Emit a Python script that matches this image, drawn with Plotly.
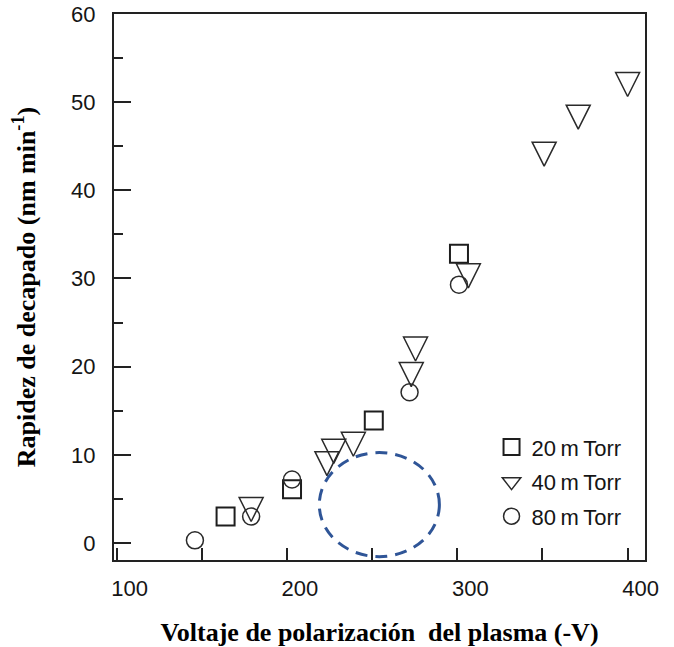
import plotly.graph_objects as go

# ---- data ----
x_20 = [164, 203, 251, 301]
y_20 = [3.0, 6.1, 13.9, 32.8]

x_40 = [179, 223.5, 227.5, 239, 273, 275.5, 306.5, 351, 371, 400]
y_40 = [3.8, 9.0, 10.4, 11.2, 19.1, 22.0, 30.3, 44.1, 48.3, 52.0]

x_80 = [146, 179, 203, 272, 301]
y_80 = [0.3, 3.0, 7.2, 17.1, 29.3]

series_names = ["20\u2009m\u2009Torr", "40\u2009m\u2009Torr", "80\u2009m\u2009Torr"]

x_tick_vals = [100, 200, 300, 400]
y_tick_vals = [0, 10, 20, 30, 40, 50, 60]

highlight_x = [219, 289.5]
highlight_y = [-1.55, 10.25]

x_title = "Voltaje de polarización  del plasma (-V)"
y_title = "Rapidez de decapado (nm min<sup>-1</sup>)"

# ---- figure ----
INK = "#2a2a2a"
SQ = "#1e1e1e"
fig = go.Figure()

fig.add_trace(go.Scatter(
    x=x_20, y=y_20, mode="markers", name=series_names[0], legendgroup="a",
    marker=dict(symbol="square-open", size=18, color=SQ, line=dict(color=SQ, width=2)),
))
# 40 mTorr data (equilateral-looking down triangles, centred with standoff)
fig.add_trace(go.Scatter(
    x=x_40, y=y_40, mode="markers", name=series_names[1], legendgroup="b",
    showlegend=False,
    marker=dict(symbol="arrow-down-open", size=24, standoff=12, color=INK,
                line=dict(color=INK, width=1.5)),
))
# legend entry for the 40 mTorr series
fig.add_trace(go.Scatter(
    x=[None], y=[None], mode="markers", name=series_names[1], legendgroup="b",
    marker=dict(symbol="triangle-down-open", size=16, color=INK,
                line=dict(color=INK, width=1.5)),
))
fig.add_trace(go.Scatter(
    x=x_80, y=y_80, mode="markers", name=series_names[2], legendgroup="c",
    marker=dict(symbol="circle-open", size=17, color=INK, line=dict(color=INK, width=1.5)),
))

fig.add_shape(type="circle", xref="x", yref="y",
              x0=highlight_x[0], x1=highlight_x[1],
              y0=highlight_y[0], y1=highlight_y[1],
              line=dict(color="#2f5597", width=3, dash="12px,8px"))

tick_font = dict(family="Liberation Sans, Arial, sans-serif", size=22, color="#151515")
title_font = dict(family="Liberation Serif, Times New Roman, serif", size=26, color="#000000")

fig.update_xaxes(
    range=[98.5, 410.2], tickvals=x_tick_vals, ticks="inside", ticklen=12,
    tickwidth=1.5, tickcolor="#222", showline=True, linewidth=2, linecolor="#222",
    mirror=True, showgrid=False, zeroline=False, tickfont=tick_font,
    ticklabelshift=13, ticklabelstandoff=8, automargin=False,
    minor=dict(dtick=50, tick0=0, ticks="inside", ticklen=12, tickwidth=1.5, tickcolor="#222"),
    title=dict(text="<b>" + x_title + "</b>", font=title_font, standoff=22),
)
fig.update_yaxes(
    range=[-1.93, 60.0], tickvals=y_tick_vals, ticks="inside", ticklen=17,
    tickwidth=2, tickcolor="#222", showline=True, linewidth=2, linecolor="#222",
    mirror=True, showgrid=False, zeroline=False, tickfont=tick_font,
    ticklabelstandoff=12, automargin=False,
    minor=dict(dtick=5, tick0=0, ticks="inside", ticklen=9, tickwidth=1.5, tickcolor="#222"),
    title=dict(text="<b>" + y_title + "</b>", font=title_font, standoff=28),
)

fig.update_layout(
    width=674, height=647,
    margin=dict(l=114, r=29, t=14, b=87),
    paper_bgcolor="white", plot_bgcolor="white",
    showlegend=True,
    legend=dict(x=0.711, y=0.245, xanchor="left", yanchor="top",
                bgcolor="rgba(0,0,0,0)", tracegroupgap=3,
                font=dict(family="Liberation Sans, Arial, sans-serif", size=22, color="#151515"),
                itemsizing="trace"),
)

fig.write_html("out.html")
